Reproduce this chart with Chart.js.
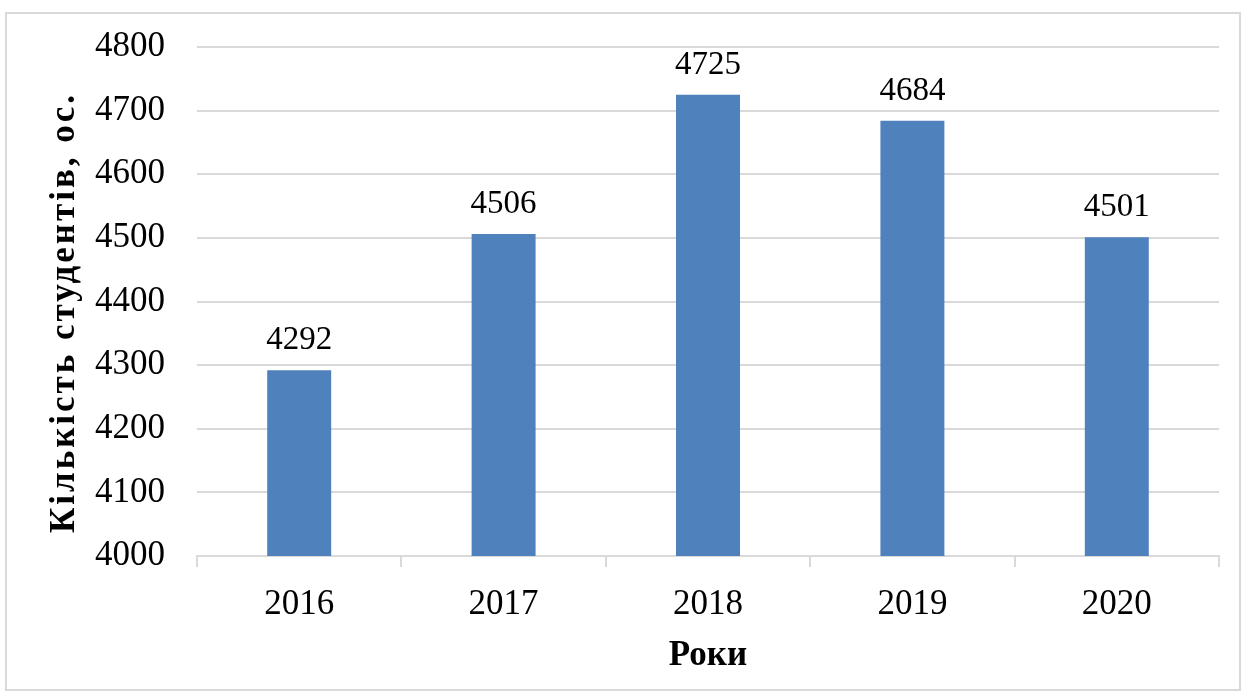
<!DOCTYPE html>
<html>
<head>
<meta charset="utf-8">
<script src="https://cdn.jsdelivr.net/npm/chart.js@4.4.1/dist/chart.umd.min.js"></script>
<style>
  html, body { margin: 0; padding: 0; background: #fff; }
  #wrap { position: relative; width: 1248px; height: 697px; }
  #frame { position: absolute; left: 5px; top: 12px; width: 1236px; height: 679px; border: 2px solid #d9d9d9; box-sizing: border-box; }
  canvas { position: absolute; left: 0; top: 0; }
</style>
</head>
<body>
<div id="wrap">
  <div id="frame"></div>
  <canvas id="studentsChart" width="1248" height="697"></canvas>
</div>
<script>
// data
const years = ["2016", "2017", "2018", "2019", "2020"];
const students = [4292, 4506, 4725, 4684, 4501];
const yMin = 4000, yMax = 4800, yStep = 100;
const yTitle = "Кількість студентів, ос.";

const serif = "'Liberation Serif', 'Times New Roman', serif";

// value labels above bars + rotated y title (slightly letter-spaced like the original)
const extras = {
  id: "extras",
  afterDatasetsDraw(chart) {
    const ctx = chart.ctx;
    const meta = chart.getDatasetMeta(0);
    ctx.save();
    ctx.font = "33px " + serif;
    ctx.fillStyle = "#000";
    ctx.textAlign = "center";
    ctx.textBaseline = "bottom";
    meta.data.forEach((bar, i) => {
      ctx.fillText(students[i], bar.x, bar.y - 13);
    });
    ctx.restore();

    const area = chart.chartArea;
    ctx.save();
    ctx.translate(65, (area.top + area.bottom) / 2 + 11);
    ctx.rotate(-Math.PI / 2);
    ctx.font = "bold 35px " + serif;
    ctx.letterSpacing = "3px";
    ctx.fillStyle = "#000";
    ctx.textAlign = "center";
    ctx.textBaseline = "middle";
    ctx.fillText(yTitle, 0, 0);
    ctx.restore();
  }
};

new Chart(document.getElementById("studentsChart"), {
  type: "bar",
  data: {
    labels: years,
    datasets: [{
      data: students,
      backgroundColor: "#4f81bd",
      barPercentage: 0.313,
      categoryPercentage: 1
    }]
  },
  options: {
    responsive: false,
    animation: false,
    layout: { padding: { left: 45, right: 29, top: 47, bottom: 20 } },
    plugins: { legend: { display: false }, tooltip: { enabled: false } },
    scales: {
      x: {
        afterFit(scale) { scale.height = 121; },
        grid: { offset: true, drawOnChartArea: false, drawTicks: true, tickLength: 11, color: "#d9d9d9", lineWidth: 2 },
        border: { color: "#d9d9d9", width: 2 },
        ticks: { color: "#000", font: { family: serif, size: 35 }, padding: 17 },
        title: { display: true, text: "Роки", color: "#000", font: { family: serif, size: 35, weight: "bold" }, padding: { top: 4, bottom: 0 } }
      },
      y: {
        min: yMin,
        max: yMax,
        afterFit(scale) {
          scale.width = 152;
          scale.paddingTop = 0;   // don't let tick padding push the plot down
          scale.paddingBottom = 0;
        },
        grid: { color: "#d9d9d9", lineWidth: 2, drawTicks: false },
        border: { display: false },
        ticks: { stepSize: yStep, color: "#000", font: { family: serif, size: 35 }, padding: 32, callback: v => String(v) },
        title: { display: false }
      }
    }
  },
  plugins: [extras]
});
</script>
</body>
</html>
